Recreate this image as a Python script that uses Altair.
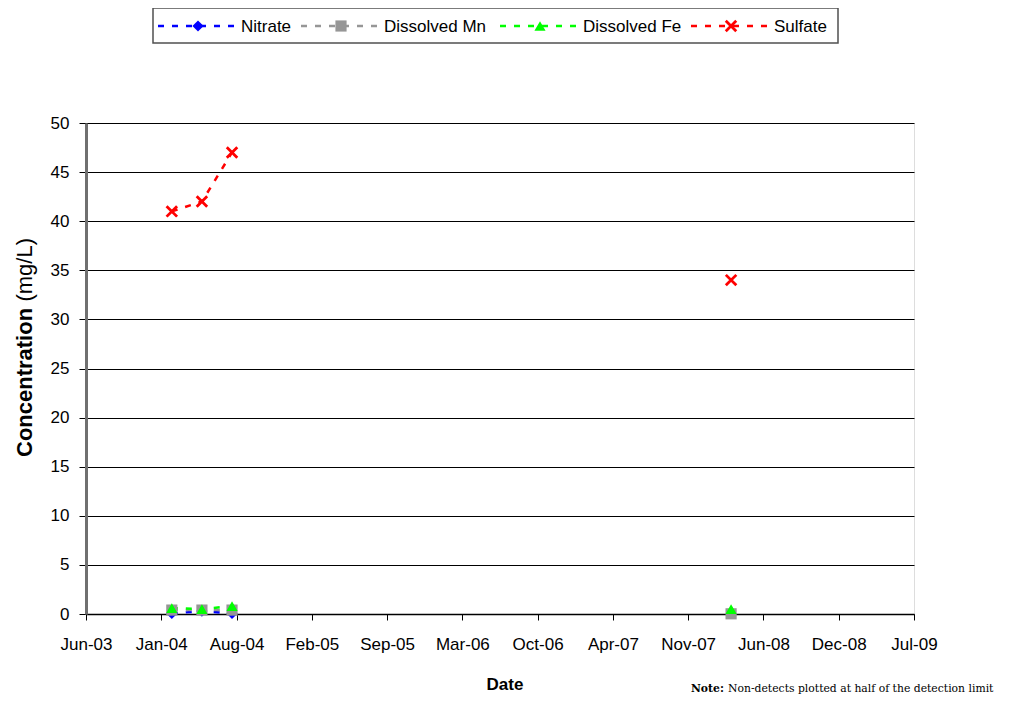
import datetime as dt
import altair as alt
import pandas as pd

# ---------------- data ----------------
dates = ["2004-02-13", "2004-05-03", "2004-07-22", "2008-03-09"]
segment = [1, 1, 1, 2]
nitrate = [0.05, 0.3, 0.05, None]
diss_mn = [0.4, 0.4, 0.4, 0.02]
diss_fe = [0.6, 0.5, 0.8, 0.5]
sulfate = [41, 42, 47, 34]

series_names = ["Nitrate", "Dissolved Mn", "Dissolved Fe", "Sulfate"]
series_values = [nitrate, diss_mn, diss_fe, sulfate]
colors = ["#0000FF", "#969696", "#00FF00", "#FF0000"]
X_PATH = "M-1,-1L1,1M-1,1L1,-1"
shapes = ["diamond", "square", "triangle-up", X_PATH]

# x axis: Excel date axis, major unit 200 days
axis_start = dt.date(2003, 6, 30)
axis_end = dt.date(2009, 7, 8)
tick_dates = [axis_start + dt.timedelta(days=200 * i) for i in range(12)]
y_ticks = list(range(0, 51, 5))

rows = []
for name, vals in zip(series_names, series_values):
    for d, s, v in zip(dates, segment, vals):
        if v is not None:
            rows.append({"date": d, "series": name, "seg": f"{name}-{s}", "value": v})
df = pd.DataFrame(rows)


def dtime(d):
    return alt.DateTime(year=d.year, month=d.month, date=d.day, utc=True)


FONT = "Liberation Sans"
OX, OY = 86, 123  # plot origin on the page

x_enc = alt.X(
    "date:T",
    scale=alt.Scale(type="utc", domain=[dtime(axis_start), dtime(axis_end)]),
    axis=alt.Axis(
        values=[dtime(d) for d in tick_dates],
        labelExpr="utcFormat(datum.value, '%b-%y')",
        title=None,
        grid=False,
        labelFlush=False,
        labelOverlap=False,
        labelFont=FONT,
        labelFontSize=17,
        labelColor="black",
        labelPadding=16,
        tickColor="black",
        tickSize=6,
        domainColor="black",
        domainWidth=1.5,
    ),
)
y_enc = alt.Y(
    "value:Q",
    scale=alt.Scale(domain=[0, 50], nice=False),
    axis=alt.Axis(
        values=y_ticks,
        title=None,
        grid=True,
        gridColor="black",
        gridWidth=1,
        gridOpacity=1,
        labelFont=FONT,
        labelFontSize=17,
        labelColor="black",
        labelPadding=10,
        tickColor="black",
        tickSize=7,
        domainColor="#707070",
        domainWidth=3,
    ),
)
color_scale = alt.Scale(domain=series_names, range=colors)
shape_scale = alt.Scale(domain=series_names, range=shapes)

base = alt.Chart(df)
lines = base.mark_line(strokeWidth=2.5, strokeDash=[6, 8]).encode(
    x=x_enc,
    y=y_enc,
    color=alt.Color("series:N", scale=color_scale, legend=None),
    detail="seg:N",
    order=alt.Order("date:T"),
)
filled_pts = (
    base.transform_filter(alt.datum.series != "Sulfate")
    .mark_point(filled=True, opacity=1, size=125)
    .encode(
        x="date:T",
        y="value:Q",
        color=alt.Color("series:N", scale=color_scale, legend=None),
        shape=alt.Shape("series:N", scale=shape_scale, legend=None),
    )
)
x_pts = (
    base.transform_filter(alt.datum.series == "Sulfate")
    .mark_point(shape=X_PATH, filled=False, size=110, strokeWidth=2.8, color="#FF0000", opacity=1)
    .encode(x="date:T", y="value:Q")
)

one = pd.DataFrame({"k": [0]})

# ---------------- legend (drawn by hand, like Excel's) ----------------
legend_layers = [
    alt.Chart(one)
    .mark_rect(fill="white", stroke="#505050", strokeWidth=1.5)
    .encode(
        x=alt.value(153 - OX), x2=alt.value(838 - OX),
        y=alt.value(8 - OY), y2=alt.value(43 - OY),
    )
]
marker_x = [198, 341, 540, 731]
LY = 26 - OY
for name, col, shp, mx in zip(series_names, colors, shapes, marker_x):
    legend_layers.append(
        alt.Chart(one)
        .mark_rule(color=col, strokeWidth=2.5, strokeDash=[6, 8])
        .encode(x=alt.value(mx - 40 - OX), x2=alt.value(mx + 38 - OX), y=alt.value(LY))
    )
    if shp == X_PATH:
        pt = alt.Chart(one).mark_point(shape=shp, filled=False, size=110, strokeWidth=2.8, color=col, opacity=1)
    else:
        pt = alt.Chart(one).mark_point(shape=shp, filled=True, size=125, color=col, opacity=1)
    legend_layers.append(pt.encode(x=alt.value(mx - OX), y=alt.value(LY)))
    legend_layers.append(
        alt.Chart(one)
        .mark_text(text=name, align="left", baseline="middle", font=FONT, fontSize=17, color="black")
        .encode(x=alt.value(mx + 43 - OX), y=alt.value(LY + 1))
    )

# ---------------- titles / notes ----------------
texts = [
    alt.Chart(one)
    .mark_text(text="Concentration", angle=270, align="left", baseline="alphabetic",
               font=FONT, fontSize=22, fontWeight="bold", color="black")
    .encode(x=alt.value(32 - OX), y=alt.value(457 - OY)),
    alt.Chart(one)
    .mark_text(text="(mg/L)", angle=270, align="right", baseline="alphabetic",
               font=FONT, fontSize=22, color="black")
    .encode(x=alt.value(32 - OX), y=alt.value(238 - OY)),
    alt.Chart(one)
    .mark_text(text="Date", align="center", baseline="middle",
               font=FONT, fontSize=17, fontWeight="bold", color="black")
    .encode(x=alt.value(505 - OX), y=alt.value(685 - OY)),
    alt.Chart(one)
    .mark_text(text="Note:", align="left", baseline="alphabetic",
               font="DejaVu Serif", fontSize=10.8, fontWeight="bold", color="black")
    .encode(x=alt.value(691 - OX), y=alt.value(692 - OY)),
    alt.Chart(one)
    .mark_text(text="Non-detects plotted at half of the detection limit", align="left",
               baseline="alphabetic", font="DejaVu Serif", fontSize=10.8, color="black")
    .encode(x=alt.value(728 - OX), y=alt.value(692 - OY)),
]

chart = (
    alt.layer(lines, filled_pts, x_pts, *legend_layers, *texts)
    .properties(
        width=828,
        height=491,
        autosize=alt.AutoSizeParams(type="none"),
        padding={"left": 78, "top": 115, "right": 90, "bottom": 84},
    )
    .configure_view(stroke="#808080", strokeWidth=2.5)
    .configure(background="white")
)

chart.save("out.html", embed_options={"renderer": "svg", "actions": False})
